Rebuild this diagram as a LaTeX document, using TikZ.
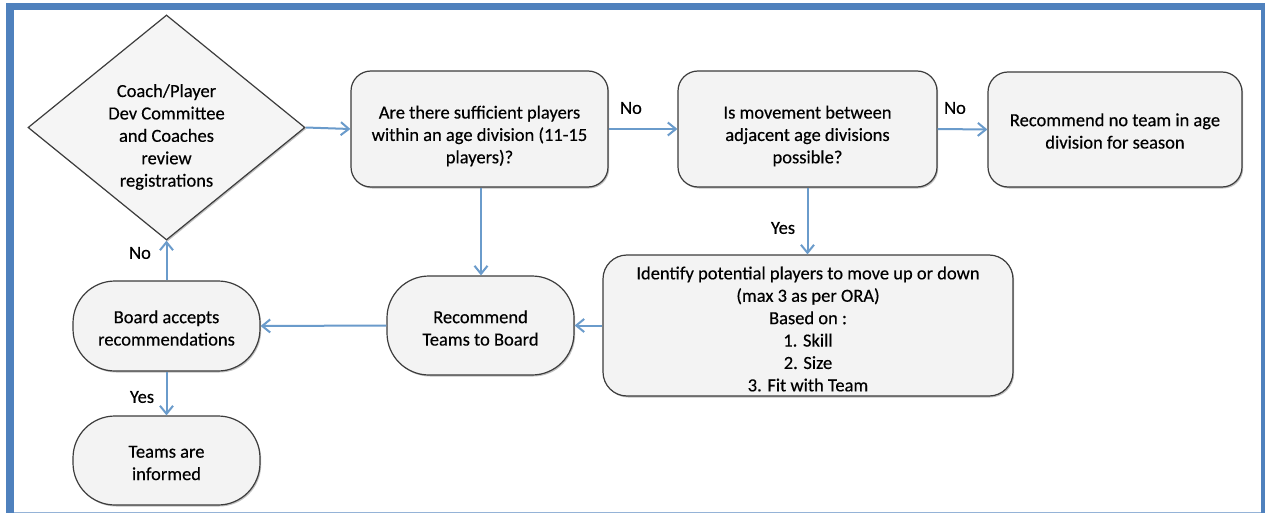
\documentclass[tikz,border=0pt]{standalone}
\usepackage{fontspec}
\setmainfont{Carlito}[UprightFeatures={FakeBold=0.35}]
\usetikzlibrary{arrows.meta,shapes.geometric,shadows}
\definecolor{frameblue}{HTML}{4F81BD}
\definecolor{framelight}{HTML}{95B3D7}
\definecolor{arrowblue}{HTML}{6A9BCB}
\definecolor{boxfill}{HTML}{F3F3F3}
\definecolor{boxline}{HTML}{3C3C3C}
\begin{document}
\begin{tikzpicture}[x=1pt,y=-1pt,
  outline/.style={draw=boxline, line width=1.2pt, fill=boxfill},
  shp/.style={outline, inner sep=0pt,
    drop shadow={shadow xshift=1.2pt, shadow yshift=-1.5pt, opacity=0.35, fill=black!70}},
  rbox/.style={shp, rectangle, rounded corners=20pt},
  pill/.style={shp, rectangle, rounded corners=42pt},
  txt/.style={align=center, inner sep=0pt, font=\fontsize{18.5}{22.4}\selectfont},
  lab/.style={inner sep=0pt, font=\fontsize{18.5}{20}\selectfont},
  link/.style={draw=arrowblue, line width=2pt, -{Straight Barb[length=8pt,width=13pt,line width=2pt]}}]
\useasboundingbox (0,0) rectangle (1265,513);
% frame
\fill[white] (0,0) rectangle (1265,513);
\fill[frameblue] (6,3) rectangle (1265,10.5);
\fill[frameblue] (6,3) rectangle (14,513);
\fill[frameblue] (1261,3) rectangle (1265,513);
\fill[framelight] (14,511.5) rectangle (1261,513);
% shapes
\node[rbox, minimum width=257pt, minimum height=116pt] (q1) at (479.5,129) {};
\node[rbox, minimum width=259pt, minimum height=116pt] (q2) at (807.5,129) {};
\node[rbox, minimum width=254pt, minimum height=115pt] (nt) at (1115,129.5) {};
\node[rbox, rounded corners=24pt, minimum width=410pt, minimum height=141pt] (id) at (808,325.5) {};
\node[pill, minimum width=187pt, minimum height=99pt] (rt) at (480.5,325.5) {};
\node[pill, minimum width=187pt, minimum height=90pt] (ba) at (166.5,326) {};
\node[pill, minimum width=187pt, minimum height=89pt] (ti) at (166.5,460.5) {};
\node[shp, diamond, minimum width=277pt, minimum height=225pt, fill=white!96!black] (dia) at (166.5,127.5) {};
% texts
\node[txt] (diat) at (166.5,137) {Coach/Player\\Dev Committee\\and Coaches\\review\\registrations};
\node[txt] (q1t) at (479.5,136) {Are there sufficient players\\within an age division (11-15\\players)?};
\node[txt] (q2t) at (807.5,136) {Is movement between\\adjacent age divisions\\possible?};
\node[txt] (ntt) at (1115,131) {Recommend no team in age\\division for season};
\node[txt] (idt) at (808,329) {Identify potential players to move up or down\\(max 3 as per ORA)\\Based on :\\1. Skill\\2. Size\\3. Fit with Team};
\node[txt] (rtt) at (480.5,328) {Recommend\\Teams to Board};
\node[txt] (bat) at (166.5,328) {Board accepts\\recommendations};
\node[txt] (tit) at (166.5,463) {Teams are\\informed};
% connectors
\draw[link] (dia.east) -- (q1.west);
\draw[link] (q1.east) -- (q2.west);
\draw[link] (q2.east) -- (nt.west);
\draw[link] (q2.south) -- (q2.south |- id.north);
\draw[link] ([xshift=1.5pt]q1.south) -- ([xshift=1.5pt]q1.south |- rt.north);
\draw[link] (id.west) -- (rt.east);
\draw[link] (rt.west) -- (ba.east);
\draw[link] (ba.north) -- (dia.south);
\draw[link] (ba.south) -- (ti.north);
% labels
\node[lab] (l1) at (631,108) {No};
\node[lab] (l2) at (955,108) {No};
\node[lab] (l3) at (783,228) {Yes};
\node[lab] (l4) at (140,253) {No};
\node[lab] (l5) at (142,397) {Yes};
\end{tikzpicture}
\end{document}
